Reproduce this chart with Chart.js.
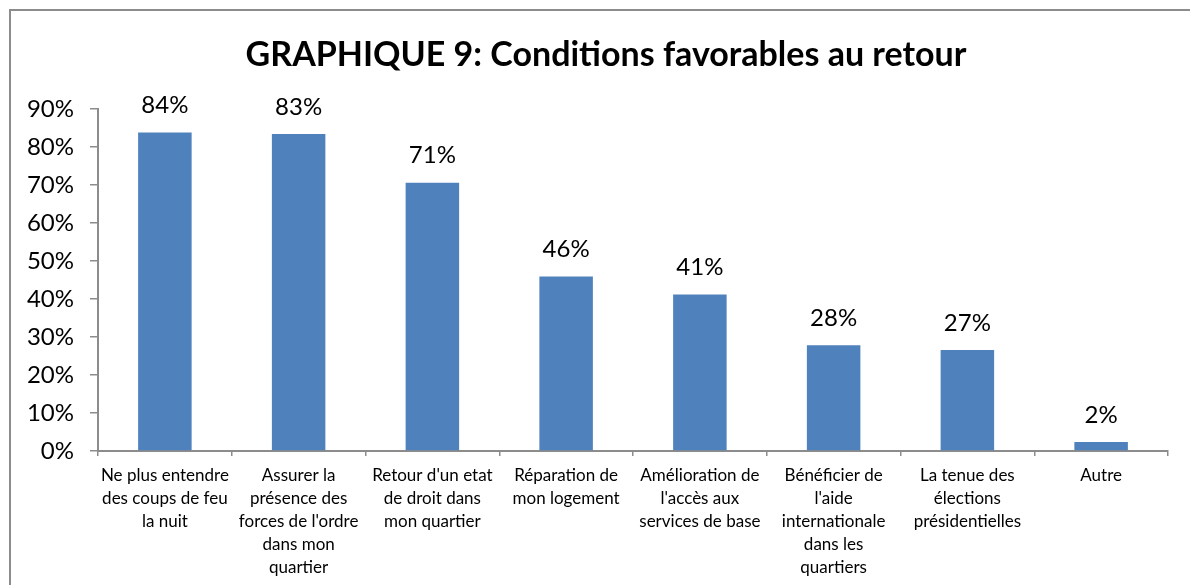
<!DOCTYPE html>
<html>
<head>
<meta charset="utf-8">
<script src="https://cdn.jsdelivr.net/npm/chart.js@4.4.1/dist/chart.umd.min.js"></script>
<style>
  html, body { margin: 0; padding: 0; background: #fff; }
  #wrap { width: 1190px; height: 585px; position: relative; }
</style>
</head>
<body>
<div id="wrap"><canvas id="chart"></canvas></div>
<script>
// data
const categories = [
  ["Ne plus entendre", "des coups de feu", "la nuit"],
  ["Assurer la", "présence des", "forces de l'ordre", "dans mon", "quartier"],
  ["Retour d'un etat", "de droit dans", "mon quartier"],
  ["Réparation de", "mon logement"],
  ["Amélioration de", "l'accès aux", "services de base"],
  ["Bénéficier de", "l'aide", "internationale", "dans les", "quartiers"],
  ["La tenue des", "élections", "présidentielles"],
  ["Autre"]
];
const values = [83.8, 83.4, 70.6, 45.9, 41.2, 27.8, 26.6, 2.4];
const valueLabels = ["84%", "83%", "71%", "46%", "41%", "28%", "27%", "2%"];
const yTicks = [0, 10, 20, 30, 40, 50, 60, 70, 80, 90];

const titleText = "GRAPHIQUE 9: Conditions favorables au retour";
const FONT = "Lato, 'Open Sans', sans-serif";
const axisGrey = "#8c8c8c";

// outer frame + title + value labels
const decorations = {
  id: "decorations",
  beforeDraw(chart) {
    const ctx = chart.ctx;
    ctx.save();
    ctx.strokeStyle = axisGrey;
    ctx.lineWidth = 2;
    ctx.beginPath();
    ctx.moveTo(10, 600);
    ctx.lineTo(10, 10);
    ctx.lineTo(1200, 10);
    ctx.stroke();
    ctx.fillStyle = "#000";
    ctx.font = "bold 34px " + FONT;
    ctx.textAlign = "center";
    ctx.textBaseline = "middle";
    ctx.fillText(titleText, 606, 55);
    ctx.restore();
  },
  afterDatasetsDraw(chart) {
    const ctx = chart.ctx;
    const meta = chart.getDatasetMeta(0);
    ctx.save();
    ctx.fillStyle = "#000";
    ctx.font = "24px " + FONT;
    ctx.textAlign = "center";
    ctx.textBaseline = "bottom";
    meta.data.forEach((bar, i) => {
      ctx.fillText(valueLabels[i], bar.x, bar.y - 15);
    });
    ctx.restore();
  }
};

new Chart(document.getElementById("chart"), {
  type: "bar",
  data: {
    labels: categories,
    datasets: [{
      data: values,
      backgroundColor: "#4F81BD",
      borderWidth: 0,
      categoryPercentage: 1,
      barPercentage: 0.4
    }]
  },
  options: {
    responsive: true,
    maintainAspectRatio: false,
    animation: false,
    layout: { padding: { top: 109, right: 22, left: 0, bottom: 0 } },
    plugins: {
      legend: { display: false },
      title: { display: false },
      tooltip: { enabled: false }
    },
    scales: {
      y: {
        min: 0,
        max: 90,
        afterBuildTicks(scale) {
          scale.ticks = yTicks.map(v => ({ value: v }));
        },
        afterFit(scale) { scale.width = 98; },
        ticks: {
          callback: v => v + "%",
          color: "#000",
          font: { family: FONT, size: 24 },
          padding: 16
        },
        grid: {
          drawOnChartArea: false,
          drawTicks: true,
          tickLength: 8,
          color: axisGrey,
          lineWidth: 1.5
        },
        border: { color: axisGrey, width: 2 }
      },
      x: {
        afterFit(scale) { scale.height = 134; },
        ticks: {
          color: "#000",
          font: { family: FONT, size: 17, lineHeight: 1.35 },
          padding: 8,
          maxRotation: 0,
          autoSkip: false
        },
        grid: {
          offset: true,
          drawOnChartArea: false,
          drawTicks: true,
          tickLength: 5,
          color: axisGrey,
          lineWidth: 1.5
        },
        border: { color: axisGrey, width: 2 }
      }
    }
  },
  plugins: [decorations]
});
</script>
</body>
</html>
